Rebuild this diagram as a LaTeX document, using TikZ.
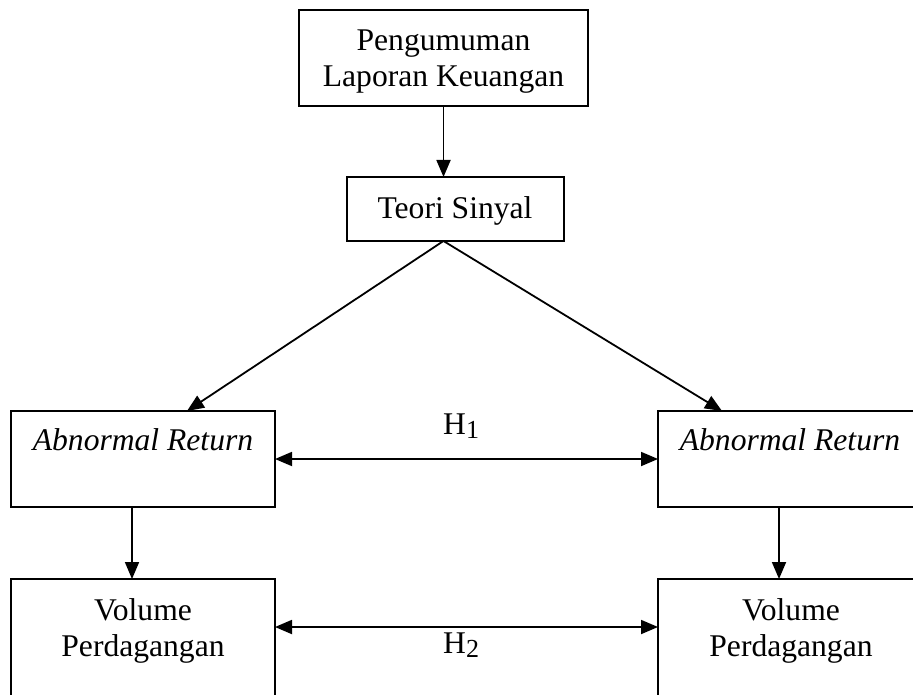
\documentclass[tikz,border=0pt]{standalone}
\usepackage{fontspec}
\setmainfont{Liberation Serif}
\usetikzlibrary{arrows.meta}
\begin{document}
\begin{tikzpicture}[x=1pt,y=-1pt,
  box/.style={draw, line width=2pt, inner sep=0pt, outer sep=0pt, rectangle},
  txt/.style={anchor=base, inner sep=0pt, font=\fontsize{31.6}{37}\selectfont},
  conn/.style={line width=1.8pt, -{Triangle[length=17pt,width=14pt]}},
  dconn/.style={line width=1.8pt, {Triangle[length=17pt,width=14pt]}-{Triangle[length=17pt,width=14pt]}}]
\useasboundingbox (0,0) rectangle (913,695);
\clip (0,0) rectangle (913,695);
% boxes
\node[box, minimum width=289pt, minimum height=96pt] (top) at (443.5,58) {};
\node[box, minimum width=217pt, minimum height=64pt] (tsy) at (455.5,209) {};
\node[box, minimum width=264pt, minimum height=96pt] (ar1) at (143,459) {};
\node[box, minimum width=264pt, minimum height=96pt] (ar2) at (790,459) {};
\node[box, minimum width=264pt, minimum height=120pt] (vol1) at (143,639) {};
\node[box, minimum width=264pt, minimum height=120pt] (vol2) at (790,639) {};
% texts
\node[txt] (t1) at (443.5,51) {Pengumuman};
\node[txt] (t2) at (443.5,87) {Laporan Keuangan};
\node[txt] (t3) at (455,218.5) {Teori Sinyal};
\node[txt] (t4) at (143,450) {\itshape Abnormal Return};
\node[txt] (t5) at (790,450.5) {\itshape Abnormal Return};
\node[txt] (t6) at (143,620) {Volume};
\node[txt] (t7) at (143,656) {Perdagangan};
\node[txt] (t8) at (791,620) {Volume};
\node[txt] (t9) at (791,656) {Perdagangan};
\node[txt, anchor=base west] (h1) at (443,434) {H\raisebox{-4pt}{\fontsize{26}{26}\selectfont 1}};
\node[txt, anchor=base west] (h2) at (443,653) {H\raisebox{-4pt}{\fontsize{26}{26}\selectfont 2}};
% connectors
\draw[conn] (top.south) -- ([xshift=-12pt]tsy.north);
\draw[conn] ([xshift=-12pt]tsy.south) -- ([xshift=44pt]ar1.north);
\draw[conn] ([xshift=-12pt]tsy.south) -- ([xshift=-68pt]ar2.north);
\draw[dconn] (ar1.east) -- (ar2.west);
\draw[conn] ([xshift=-11pt]ar1.south) -- ([xshift=-11pt]vol1.north);
\draw[conn] ([xshift=-11pt]ar2.south) -- ([xshift=-11pt]vol2.north);
\draw[dconn] ([yshift=-48pt]vol1.north east) -- ([yshift=-48pt]vol2.north west);
\end{tikzpicture}
\end{document}
